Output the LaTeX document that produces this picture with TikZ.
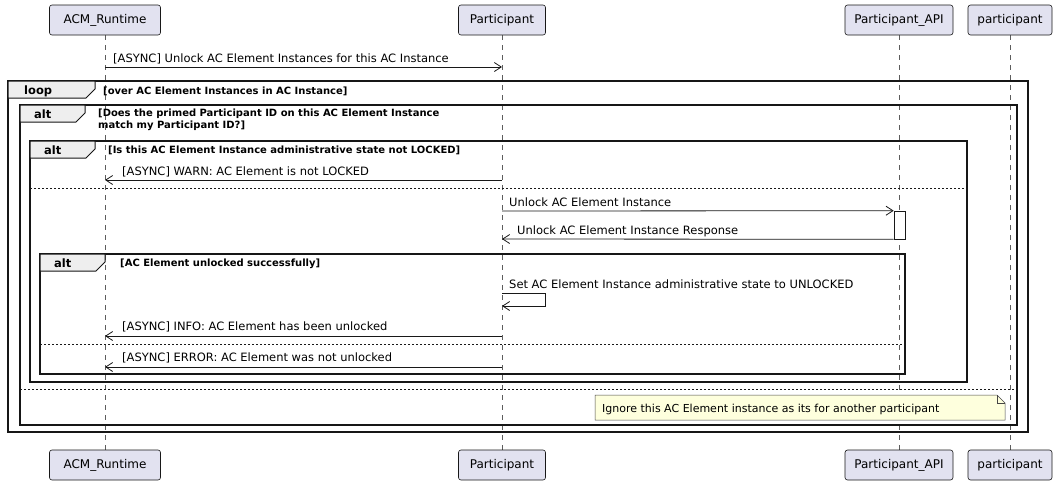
\documentclass[tikz,border=0pt]{standalone}
\usepackage{fontspec}
\setmainfont{DejaVu Sans}
\usetikzlibrary{arrows.meta}
\definecolor{pbox}{HTML}{E2E2F0}
\definecolor{pbord}{HTML}{181818}
\definecolor{tabc}{HTML}{EEEEEE}
\definecolor{notef}{HTML}{FEFFDD}
\tikzset{
  part/.style={draw=pbord,fill=pbox,rounded corners=2.5pt,minimum height=30pt,inner xsep=6pt,font=\fontsize{12}{14}\selectfont,line width=0.6pt},
  life/.style={draw=pbord!70,dash pattern=on 5pt off 5pt,line width=0.5pt},
  msg/.style={draw=pbord,line width=0.8pt,-{Straight Barb[length=7pt,width=9pt]}},
  mlab/.style={font=\fontsize{11.5}{13}\selectfont,anchor=base west,inner sep=0pt},
  frm/.style={draw=pbord!90!black,line width=1.4pt},
  flab/.style={font=\bfseries\fontsize{10}{12}\selectfont,anchor=base west,inner sep=0pt,align=left},
  sep/.style={draw=pbord,dash pattern=on 2pt off 2pt,line width=0.6pt},
}
\begin{document}
\begin{tikzpicture}[x=1pt,y=-1pt]
\useasboundingbox (0,0) rectangle (1058,483);
% lifelines
\foreach \x/\n in {105/a,502/b,899/c,1010/d}{
  \coordinate (t\n) at (\x,35); \coordinate (b\n) at (\x,450);
  \draw[life] (t\n) -- (b\n);
}
% participants
\foreach \y/\s in {20/t,465/b}{
  \node[part,minimum width=111pt] (A\s) at (105,\y) {ACM\_Runtime};
  \node[part,minimum width=87pt] (B\s) at (502,\y) {Participant};
  \node[part,minimum width=108pt] (C\s) at (899,\y) {Participant\_API};
  \node[part,minimum width=84pt] (D\s) at (1010,\y) {participant};
}
% message 1
\coordinate (m1a) at (105,67); \coordinate (m1b) at (502,67);
\draw[msg] (m1a) -- (m1b);
\node[mlab] (l1) at (113,62) {[ASYNC] Unlock AC Element Instances for this AC Instance};
% loop frame
\draw[frm] (8,81) rectangle (1028,432);
\draw[frm,fill=tabc,line width=1pt] (8,81) -- (95,81) -- (95,89) -- (86,98) -- (8,98) -- cycle;
\node[flab,font=\bfseries\fontsize{11.5}{13}\selectfont] (lt) at (24,94) {loop};
\node[flab] (ll) at (103,94) {[over AC Element Instances in AC Instance]};
% alt outer
\draw[frm] (20,105) rectangle (1017,425);
\draw[frm,fill=tabc,line width=1pt] (20,105) -- (85,105) -- (85,113) -- (76,122) -- (20,122) -- cycle;
\node[flab,font=\bfseries\fontsize{11.5}{13}\selectfont] (a1t) at (34,118) {alt};
\node[flab,anchor=north west] (a1l) at (98,109) {[Does the primed Participant ID on this AC Element Instance\\match my Participant ID?]};
% alt inner
\draw[frm] (30,141) rectangle (967,382);
\draw[frm,fill=tabc,line width=1pt] (30,141) -- (95,141) -- (95,149) -- (86,158) -- (30,158) -- cycle;
\node[flab,font=\bfseries\fontsize{11.5}{13}\selectfont] (a2t) at (44,154) {alt};
\node[flab] (a2l) at (108,153) {[Is this AC Element Instance administrative state not LOCKED]};
\coordinate (m2a) at (502,180); \coordinate (m2b) at (105,180);
\draw[msg] (m2a) -- (m2b);
\node[mlab] (l2) at (122,175) {[ASYNC] WARN: AC Element is not LOCKED};
\coordinate (s1a) at (30,188); \coordinate (s1b) at (967,188);
\draw[sep] (s1a) -- (s1b);
% unlock
\node[draw=pbord,fill=white,line width=0.6pt,minimum width=11pt,minimum height=28pt,inner sep=0pt] (act) at (899.5,225) {};
\coordinate (m3a) at (502,211);
\draw[msg] (m3a) -- (act.north west);
\node[mlab] (l3) at (509,206) {Unlock AC Element Instance};
\coordinate (m4b) at (502,239);
\draw[msg] (act.south west) -- (m4b);
\node[mlab] (l4) at (517,234) {Unlock AC Element Instance Response};
% alt 3
\draw[frm] (40,254) rectangle (905,374);
\draw[frm,fill=tabc,line width=1pt] (40,254) -- (105,254) -- (105,262) -- (96,271) -- (40,271) -- cycle;
\node[flab,font=\bfseries\fontsize{11.5}{13}\selectfont] (a3t) at (54,267) {alt};
\node[flab] (a3l) at (120,266) {[AC Element unlocked successfully]};
\coordinate (sa) at (502,293); \coordinate (sb) at (545,293); \coordinate (sc) at (545,306); \coordinate (sd) at (502,306);
\draw[msg] (sa) -- (sb) -- (sc) -- (sd);
\node[mlab] (l5) at (509,288) {Set AC Element Instance administrative state to UNLOCKED};
\coordinate (m6a) at (502,336); \coordinate (m6b) at (105,336);
\draw[msg] (m6a) -- (m6b);
\node[mlab] (l6) at (122,330) {[ASYNC] INFO: AC Element has been unlocked};
\coordinate (s2a) at (40,344); \coordinate (s2b) at (905,344);
\draw[sep] (s2a) -- (s2b);
\coordinate (m7a) at (502,367); \coordinate (m7b) at (105,367);
\draw[msg] (m7a) -- (m7b);
\node[mlab] (l7) at (122,361) {[ASYNC] ERROR: AC Element was not unlocked};
% outer else
\coordinate (s3a) at (20,389); \coordinate (s3b) at (1017,389);
\draw[sep] (s3a) -- (s3b);
% note
\draw[draw=pbord!80,fill=notef,line width=0.5pt] (595,395) -- (997,395) -- (1005,403) -- (1005,420) -- (595,420) -- cycle;
\draw[draw=pbord!80,line width=0.5pt] (997,395) -- (997,403) -- (1005,403);
\node[mlab,font=\fontsize{11}{13}\selectfont] (nt) at (602,412) {Ignore this AC Element instance as its for another participant};
\end{tikzpicture}
\end{document}
